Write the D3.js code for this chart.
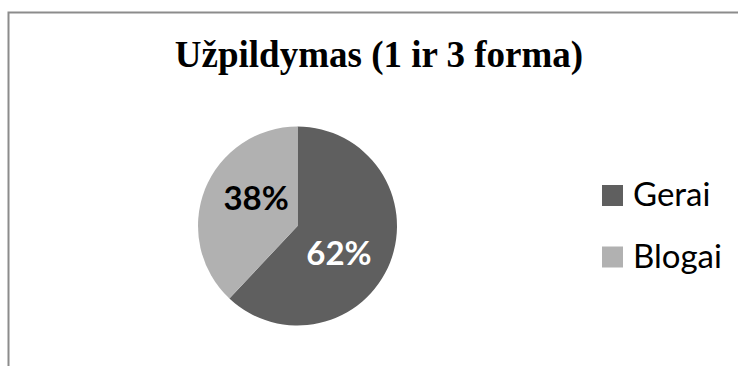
<!DOCTYPE html>
<html>
<head>
<meta charset="utf-8">
<script src="https://cdn.jsdelivr.net/npm/d3@7"></script>
<style>
  html, body { margin: 0; padding: 0; background: #fff; }
  svg { display: block; }
</style>
</head>
<body>
<svg id="chart" width="738" height="366"></svg>
<script>
// Survey result shares
const categories = ["Gerai", "Blogai"];
const values = [62, 38];
const colors = ["#5f5f5f", "#b1b1b1"];
const labelColors = ["#ffffff", "#000000"];
const title = "Užpildymas (1 ir 3 forma)";

const svg = d3.select("#chart");
const W = 738, H = 366;

// Chart frame (left and top edges visible)
svg.append("path")
  .attr("d", `M8.5,${H} L8.5,12.5 L${W},12.5`)
  .attr("fill", "none")
  .attr("stroke", "#8c8c8c")
  .attr("stroke-width", 2);

// Title
svg.append("text")
  .attr("x", 379)
  .attr("y", 67)
  .attr("text-anchor", "middle")
  .attr("font-family", "'Liberation Serif', 'Times New Roman', serif")
  .attr("font-weight", "bold")
  .attr("font-size", 37)
  .attr("fill", "#000")
  .text(title);

// Pie
const cx = 297.5, cy = 226, r = 99.5;
const color = d3.scaleOrdinal().domain(categories).range(colors);
const pie = d3.pie().sort(null).value(d => d.value);
const data = categories.map((c, i) => ({ name: c, value: values[i], labelColor: labelColors[i] }));
const arcs = pie(data);
const arc = d3.arc().innerRadius(0).outerRadius(r);

const g = svg.append("g").attr("transform", `translate(${cx},${cy})`);
g.selectAll("path.slice")
  .data(arcs)
  .join("path")
  .attr("class", "slice")
  .attr("d", arc)
  .attr("fill", d => color(d.data.name));

// Percentage labels, placed inside each slice slightly past its mid-angle
const labelR = r * 0.5;
const labelShift = 12 * Math.PI / 180;
const total = d3.sum(values);
g.selectAll("text.pct")
  .data(arcs)
  .join("text")
  .attr("class", "pct")
  .attr("transform", d => {
    const a = (d.startAngle + d.endAngle) / 2 + labelShift;
    return `translate(${labelR * Math.sin(a)},${-labelR * Math.cos(a)})`;
  })
  .attr("text-anchor", "middle")
  .attr("dy", "0.36em")
  .attr("font-family", "Lato, 'Open Sans', sans-serif")
  .attr("font-weight", "bold")
  .attr("font-size", 33)
  .attr("fill", d => d.data.labelColor)
  .text(d => Math.round(d.data.value / total * 100) + "%");

// Legend
const legend = svg.append("g").attr("transform", "translate(602,185)");
const item = legend.selectAll("g.item")
  .data(categories)
  .join("g")
  .attr("class", "item")
  .attr("transform", (d, i) => `translate(0,${i * 61.5})`);
item.append("rect")
  .attr("width", 21)
  .attr("height", 21)
  .attr("fill", d => color(d));
item.append("text")
  .attr("x", 31)
  .attr("y", 21)
  .attr("font-family", "Lato, 'Open Sans', sans-serif")
  .attr("font-size", 33)
  .attr("fill", "#000")
  .text(d => d);
</script>
</body>
</html>
